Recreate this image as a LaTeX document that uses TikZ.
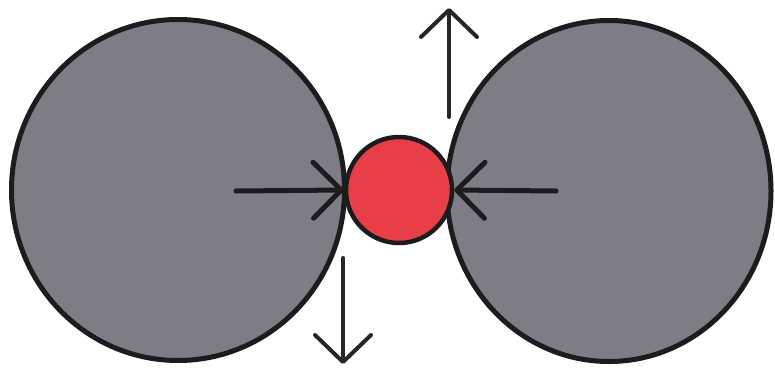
\documentclass[tikz,border=0pt]{standalone}
\usetikzlibrary{arrows.meta,shapes.geometric}
\definecolor{ballgray}{RGB}{126,125,133}
\definecolor{ballred}{RGB}{232,62,72}
\definecolor{edge}{RGB}{28,28,30}
\begin{document}
\begin{tikzpicture}[x=1pt,y=-1pt,
  bigball/.style={ellipse,draw=edge,line width=5pt,fill=ballgray,inner sep=0pt},
  smallball/.style={circle,draw=edge,line width=4.5pt,fill=ballred,inner sep=0pt,minimum size=106pt},
  force/.style={draw=edge,line width=5pt,line cap=round,
    -{Straight Barb[length=28pt,width=56pt,line width=5pt,round]}},
  motion/.style={draw=edge!90!gray,line width=4pt,line cap=round,
    -{Straight Barb[length=27pt,width=56pt,line width=4pt,round]}}]
\useasboundingbox (0,0) rectangle (775,367);
\node[bigball,minimum width=333pt,minimum height=341pt] (L) at (178,190) {};
\node[bigball,minimum width=324pt,minimum height=341pt] (R) at (609,191) {};
\node[smallball] (C) at (399,190) {};
\coordinate (lstart) at (236,191);
\coordinate (rstart) at (556,191);
\coordinate (ustart) at (449,117);
\coordinate (uend) at (449,8);
\coordinate (dstart) at (343,258);
\coordinate (dend) at (343,364);
\draw[force] (lstart) -- (C.west);
\draw[force] (rstart) -- (C.east);
\draw[motion] (ustart) -- (uend);
\draw[motion] (dstart) -- (dend);
\end{tikzpicture}
\end{document}
